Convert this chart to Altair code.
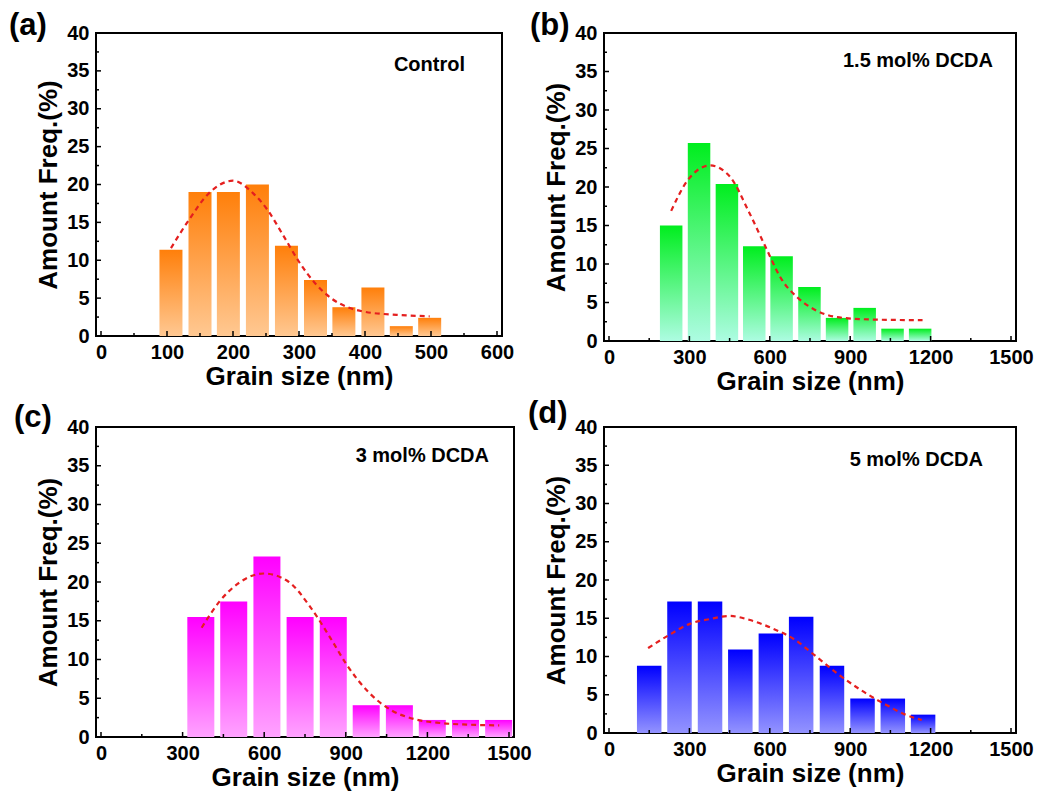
import altair as alt
import pandas as pd

FONT = "Liberation Sans"

# ---------------- data ----------------
# (a) Control
a_size = [106, 150, 193, 237, 281, 325, 368, 412, 455, 498]
a_freq = [11.4, 19.0, 19.0, 20.0, 11.9, 7.4, 3.8, 6.4, 1.3, 2.4]
a_fit_size = [106, 133, 163, 200, 231, 251, 276, 300, 325, 350, 374, 399, 448, 498]
a_fit_freq = [11.6, 15.3, 18.8, 20.5, 18.8, 16.8, 13.3, 9.8, 6.9, 4.9, 3.8, 3.2, 2.8, 2.6]

# (b) 1.5 mol% DCDA
b_size = [232, 336, 440, 542, 644, 748, 851, 954, 1058, 1161]
b_freq = [15.0, 25.7, 20.4, 12.3, 11.0, 7.0, 3.0, 4.3, 1.6, 1.6]
b_fit_size = [232, 292, 377, 450, 523, 583, 644, 705, 766, 851, 972, 1170]
b_fit_freq = [16.9, 20.8, 22.8, 21.4, 16.7, 12.3, 8.0, 5.6, 4.1, 3.1, 2.8, 2.7]

# (c) 3 mol% DCDA
c_size = [367, 488, 610, 732, 854, 975, 1097, 1218, 1340, 1462]
c_freq = [15.5, 17.5, 23.3, 15.5, 15.5, 4.1, 4.1, 2.2, 2.2, 2.2]
c_fit_size = [370, 436, 508, 598, 687, 771, 843, 902, 986, 1070, 1153, 1249, 1345, 1464]
c_fit_freq = [14.1, 17.5, 19.9, 21.1, 20.1, 16.7, 12.8, 9.4, 5.7, 3.4, 2.3, 1.8, 1.6, 1.5]

# (d) 5 mol% DCDA
d_size = [150, 263, 377, 490, 604, 717, 832, 946, 1059, 1172]
d_freq = [8.8, 17.2, 17.2, 10.9, 13.0, 15.2, 8.8, 4.5, 4.5, 2.4]
d_fit_size = [146, 219, 304, 377, 450, 523, 608, 693, 766, 851, 936, 1033, 1106, 1167]
d_fit_freq = [11.1, 12.7, 14.3, 14.9, 15.3, 14.8, 13.7, 12.2, 10.2, 7.8, 5.7, 3.7, 2.4, 1.7]

# tick values
y_major = [0, 5, 10, 15, 20, 25, 30, 35, 40]
y_minor = [2.5, 7.5, 12.5, 17.5, 22.5, 27.5, 32.5, 37.5]
x_major_a = [0, 100, 200, 300, 400, 500, 600]
x_minor_a = [50, 150, 250, 350, 450, 550]
x_major_nm = [0, 300, 600, 900, 1200, 1500]
x_minor_nm = [150, 450, 750, 1050, 1350]

panel_labels = ["(a)", "(b)", "(c)", "(d)"]
notes = ["Control", "1.5 mol% DCDA", "3 mol% DCDA", "5 mol% DCDA"]
x_title = "Grain size (nm)"
y_title = "Amount Freq.(%)"


def panel(sizes, freqs, fx, fy, xmax, xmaj, xmin, label, note, c_top, c_bot,
          w, h, bar_px, lab_x, lab_y, note_x, note_y):
    xs = alt.Scale(domain=[0, xmax], nice=False, zero=False)
    ys = alt.Scale(domain=[0, 40], nice=False)
    xax = alt.Axis(values=xmaj, ticks=False, domain=False, grid=False,
                   labelPadding=6, titlePadding=1, format="d")
    yax = alt.Axis(values=y_major, ticks=False, domain=False, grid=False,
                   labelPadding=7, titlePadding=5)

    def X(field):
        return alt.X(field, type="quantitative", scale=xs, title=x_title, axis=xax)

    def Y(field):
        return alt.Y(field, type="quantitative", scale=ys, title=y_title, axis=yax)

    grad = alt.Gradient(
        gradient="linear", x1=0, x2=0, y1=0, y2=1,
        stops=[alt.GradientStop(offset=0, color=c_top),
               alt.GradientStop(offset=1, color=c_bot)])
    bars = alt.Chart(pd.DataFrame({"g": sizes, "f": freqs})).mark_bar(
        size=bar_px, color=grad, clip=True).encode(
        x=X("g"), y=Y("f"), y2=alt.value(h - 1.5),
    )
    fit = alt.Chart(pd.DataFrame({"g": fx, "f": fy})).mark_line(
        color="#E41F1F", strokeDash=[5, 4], strokeWidth=2.2, interpolate="monotone").encode(
        x=X("g"), y=Y("f"),
    )

    def xticks(vals, ln):
        return alt.Chart(pd.DataFrame({"g": vals})).mark_rule(
            color="black", strokeWidth=1.5).encode(
            x=X("g"), y=alt.value(h), y2=alt.value(h - ln))

    def yticks(vals, ln):
        return alt.Chart(pd.DataFrame({"f": vals})).mark_rule(
            color="black", strokeWidth=1.5).encode(
            y=Y("f"), x=alt.value(0), x2=alt.value(ln))

    lab = alt.Chart(pd.DataFrame({"t": [label]})).mark_text(
        align="left", baseline="alphabetic", fontSize=31, fontWeight="bold",
        font=FONT, color="black").encode(
        x=alt.value(lab_x), y=alt.value(lab_y), text="t:N")
    nt = alt.Chart(pd.DataFrame({"t": [note]})).mark_text(
        align="right", baseline="middle", fontSize=20, fontWeight="bold",
        font=FONT, color="black").encode(
        x=alt.value(note_x), y=alt.value(note_y), text="t:N")

    return alt.layer(
        bars, fit, xticks(xmaj, 5), xticks(xmin, 3), yticks(y_major, 5), yticks(y_minor, 3),
        lab, nt
    ).properties(width=w, height=h)


pa = panel(a_size, a_freq, a_fit_size, a_fit_freq, 600, x_major_a, x_minor_a,
           panel_labels[0], notes[0], "#FF7F0A", "#FFC892", 406, 303, 23,
           -87, 2, 369, 32)
pb = panel(b_size, b_freq, b_fit_size, b_fit_freq, 1500, x_major_nm, x_minor_nm,
           panel_labels[1], notes[1], "#00EE1E", "#ADFCE2", 412, 308, 22.5,
           -74, 2, 389, 28)
pc = panel(c_size, c_freq, c_fit_size, c_fit_freq, 1500, x_major_nm, x_minor_nm,
           panel_labels[2], notes[2], "#FF00FF", "#FFA3FF", 418, 310, 27,
           -82, 0, 393, 29)
pd_ = panel(d_size, d_freq, d_fit_size, d_fit_freq, 1500, x_major_nm, x_minor_nm,
            panel_labels[3], notes[3], "#0000FF", "#9393FF", 412, 306, 24.5,
            -76, -4, 379, 33)

chart = alt.concat(pa, pb, pc, pd_, columns=2, spacing={"row": 86, "column": 90},
                   bounds="flush").properties(
    padding={"left": 8, "top": 9, "right": 5, "bottom": 2},
    background="white",
).configure(font=FONT).configure_view(
    stroke="black", strokeWidth=2
).configure_axis(
    labelFont=FONT, labelFontSize=20, labelFontWeight="bold", labelColor="black",
    titleFont=FONT, titleFontSize=26, titleFontWeight="bold", titleColor="black",
)

chart.save("out.html", embed_options={"renderer": "svg", "actions": False})
